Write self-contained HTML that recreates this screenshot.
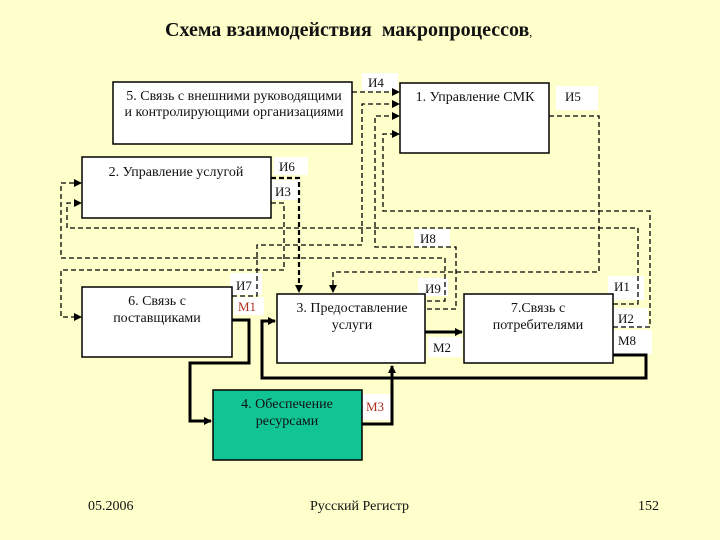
<!DOCTYPE html>
<html><head><meta charset="utf-8"><style>
html,body{margin:0;padding:0;background:#FFFFCC;}
svg{display:block}
text{font-family:"Liberation Serif","DejaVu Serif",serif;font-size:13px;fill:#111}
.b{font-size:14px}
</style></head><body>
<svg width="720" height="540" viewBox="0 0 720 540" xmlns="http://www.w3.org/2000/svg">
<defs>
<marker id="a" markerWidth="8" markerHeight="8" refX="7" refY="4" orient="auto" markerUnits="userSpaceOnUse"><path d="M0,0 L8,4 L0,8 z" fill="#000"/></marker>
</defs>
<rect width="720" height="540" fill="#FFFFCC"/>
<text x="165" y="36" style="font-size:20px;font-weight:bold">Схема взаимодействия&#160; макропроцессов<tspan style="font-size:12px;font-weight:normal">,</tspan></text>

<g fill="#fff">
<rect x="362" y="73" width="36" height="18"/>
<rect x="556" y="86" width="42" height="24"/>
<rect x="274" y="157" width="34" height="18"/>
<rect x="270" y="180" width="30" height="20"/>
<rect x="414" y="229" width="36" height="18"/>
<rect x="230" y="273" width="32" height="22"/>
<rect x="418" y="278" width="30" height="18"/>
<rect x="608" y="276" width="36" height="24"/>
<rect x="612" y="308" width="36" height="20"/>
<rect x="612" y="330" width="40" height="24"/>
<rect x="428" y="337" width="34" height="20"/>
<rect x="362" y="394" width="30" height="26"/>
<rect x="234" y="297" width="30" height="18"/>
</g>

<g fill="#fff" stroke="#000" stroke-width="1.5">
<rect x="113" y="82" width="239" height="62"/>
<rect x="400" y="83" width="149" height="70"/>
<rect x="82" y="157" width="189" height="61"/>
<rect x="82" y="287" width="150" height="70"/>
<rect x="277" y="294" width="148" height="69"/>
<rect x="464" y="294" width="149" height="69"/>
<rect x="213" y="390" width="149" height="70" fill="#10C494"/>
</g>

<g text-anchor="middle" class="b">
<text class="b" x="234" y="100">5. Связь с внешними руководящими</text>
<text class="b" x="234" y="116">и контролирующими организациями</text>
<text class="b" x="475" y="101">1. Управление СМК</text>
<text class="b" x="176" y="176">2. Управление услугой</text>
<text class="b" x="157" y="305">6. Связь с</text>
<text class="b" x="157" y="322">поставщиками</text>
<text class="b" x="352" y="312">3. Предоставление</text>
<text class="b" x="352" y="329">услуги</text>
<text class="b" x="538" y="312">7.Связь с</text>
<text class="b" x="538" y="329">потребителями</text>
<text class="b" x="287" y="408">4. Обеспечение</text>
<text class="b" x="287" y="425">ресурсами</text>
</g>

<g fill="none" stroke="#000" stroke-width="1.3" stroke-dasharray="5,3">
<path d="M352,92 H399" marker-end="url(#a)"/>
<path d="M232,296 H257 V245 H362 V104 H399" marker-end="url(#a)"/>
<path d="M427,309 H456 V247 H375 V116 H399" marker-end="url(#a)"/>
<path d="M613,327 H650 V211 H383 V134 H399" marker-end="url(#a)"/>
<path d="M549,116 H599 V272 H333 V292" marker-end="url(#a)"/>
<path d="M271,178 H299 V292" stroke-width="2.2" marker-end="url(#a)"/>
<path d="M271,203 H284 V270 H61 V317 H81" marker-end="url(#a)"/>
<path d="M427,301 H445 V258 H61 V183 H81" marker-end="url(#a)"/>
<path d="M613,304 H638 V228 H67 V203 H81" marker-end="url(#a)"/>
</g>

<g fill="none" stroke="#000" stroke-width="3">
<path d="M232,320 H249 V363 H190 V421 H211" marker-end="url(#a)"/>
<path d="M362,424 H392 V366" marker-end="url(#a)"/>
<path d="M425,332 H462" marker-end="url(#a)"/>
<path d="M613,355 H646 V378 H262 V321 H275" marker-end="url(#a)"/>
</g>

<g>
<text x="368" y="87">И4</text>
<text x="565" y="101">И5</text>
<text x="279" y="171">И6</text>
<text x="275" y="196">И3</text>
<text x="420" y="243">И8</text>
<text x="236" y="290">И7</text>
<text x="238" y="311" style="fill:#b03020">М1</text>
<text x="425" y="293">И9</text>
<text x="614" y="291">И1</text>
<text x="618" y="323">И2</text>
<text x="618" y="345">М8</text>
<text x="433" y="352">М2</text>
<text x="366" y="411" style="fill:#b03020">М3</text>
</g>

<text class="b" x="88" y="510">05.2006</text>
<text class="b" x="310" y="510">Русский Регистр</text>
<text class="b" x="638" y="510">152</text>
</svg>
</body></html>
